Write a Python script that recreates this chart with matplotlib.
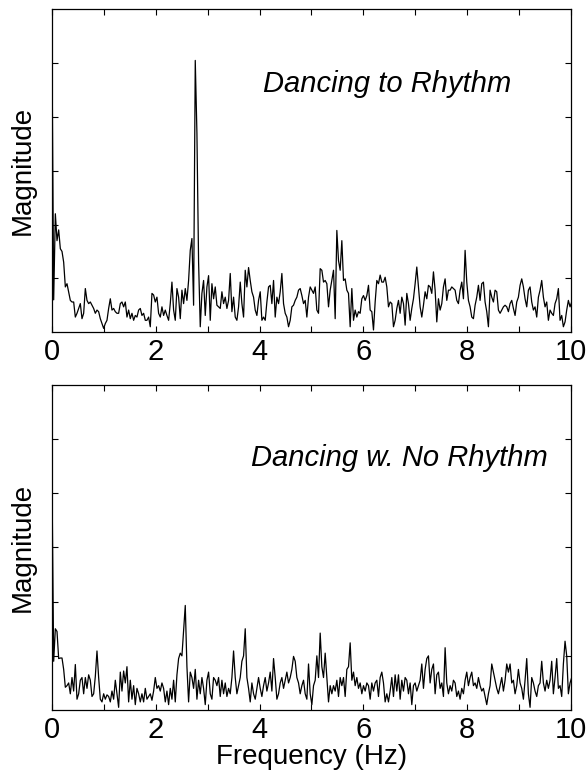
import numpy as np
import matplotlib
matplotlib.use("Agg")
import matplotlib.pyplot as plt

plt.rcParams['font.family'] = ['Liberation Sans', 'DejaVu Sans']

# frequency spacing of the spectra (Hz)
freq_step = 0.0321

# magnitude spectrum, dancing to rhythm (arbitrary units)
rhythm_mag = [
    5.2, 0.6, 2.2, 1.7, 1.9, 1.55, 1.5, 1.3, 0.84, 0.9, 0.75, 0.59, 0.56, 0.56, 0.28, 0.35,
    0.44, 0.53, 0.25, 0.35, 0.81, 0.59, 0.53, 0.56, 0.5, 0.44, 0.35, 0.41, 0.38, 0.25, 0.16, 0.07,
    0.16, 0.22, 0.44, 0.62, 0.41, 0.44, 0.38, 0.35, 0.35, 0.53, 0.56, 0.47, 0.56, 0.28, 0.41, 0.25,
    0.35, 0.22, 0.31, 0.28, 0.41, 0.44, 0.31, 0.35, 0.22, 0.22, 0.28, 0.1, 0.72, 0.69, 0.56, 0.65,
    0.35, 0.28, 0.47, 0.31, 0.41, 0.31, 0.22, 0.53, 0.93, 0.41, 0.22, 0.81, 0.65, 0.25, 0.78, 0.53,
    0.81, 0.59, 0.96, 1.52, 1.74, 0.5, 5.05, 3.7, 1.3, 0.1, 0.72, 0.96, 0.31, 0.84, 1.05, 0.22,
    0.9, 0.62, 0.84, 0.5, 0.47, 0.44, 0.75, 0.53, 0.65, 0.44, 0.59, 1.09, 0.38, 0.65, 0.28, 0.22,
    0.47, 0.93, 0.53, 0.28, 1.15, 0.84, 1.2, 0.96, 0.75, 0.65, 0.41, 0.31, 0.59, 0.75, 0.22, 0.28,
    0.22, 0.56, 0.84, 0.87, 0.53, 0.96, 0.28, 0.65, 0.53, 0.75, 1.09, 0.53, 0.35, 0.28, 0.1, 0.22,
    0.47, 0.5, 0.59, 0.65, 0.78, 0.81, 0.68, 0.53, 0.59, 0.28, 0.65, 0.84, 0.78, 0.72,
    0.84, 0.41, 0.35, 1.18, 1.15, 0.93, 0.96, 0.9, 0.47, 0.78, 0.96, 1.15, 0.25, 1.89, 1.33, 1.15,
    1.7, 0.96, 0.99, 0.78, 0.72, 0.1, 0.81, 0.22, 0.41, 0.28, 0.38, 0.35, 0.62, 0.68, 0.59, 0.68,
    0.87, 0.41, 0.38, 0.04, 0.56, 0.96, 0.9, 1.06, 0.93, 0.93, 1.02, 0.84, 0.47, 0.56, 0.53, 0.1,
    0.22, 0.44, 0.59, 0.35, 0.65, 0.53, 0.13, 0.72, 0.53, 0.22, 0.44, 0.62, 0.9, 1.21, 0.84, 0.47,
    0.28, 0.5, 0.75, 0.62, 0.87, 0.84, 0.72, 1.12, 0.78, 0.19, 0.62, 0.41, 0.53, 0.84, 0.99, 0.59,
    0.78, 0.78, 0.84, 0.81, 0.78, 0.59, 0.53, 0.78, 0.93, 0.62, 1.52, 0.93, 0.59, 0.47, 0.28, 0.25,
    0.5, 0.65, 0.87, 0.59, 0.9, 0.93, 0.56, 0.38, 0.1, 0.78, 0.65, 0.56, 0.78, 0.75, 0.41, 0.35,
    0.41, 0.47, 0.5, 0.47, 0.38, 0.53, 0.59, 0.44, 0.31, 0.56, 0.65, 0.87, 0.99, 0.84, 0.62, 0.47,
    0.78, 0.84, 0.56, 0.41, 0.47, 0.28, 0.65, 0.78, 0.96, 0.65, 0.47, 0.56, 0.22, 0.41, 0.35, 0.31,
    0.53, 0.62, 0.81, 0.22, 0.31, 0.1, 0.19, 0.41, 0.59, 0.47, 0.56,
]

# magnitude spectrum, dancing without rhythm
norhythm_mag = [
    4.2, 0.9, 1.5, 1.45, 0.95, 0.96, 0.96, 0.75, 0.42, 0.45, 0.5, 0.3, 0.6, 0.35, 0.84, 0.2,
    0.3, 0.55, 0.6, 0.3, 0.6, 0.4, 0.65, 0.55, 0.25, 0.3, 0.62, 1.09, 0.6, 0.2, 0.15, 0.3,
    0.2, 0.28, 0.25, 0.15, 0.35, 0.2, 0.55, 0.3, 0.05, 0.7, 0.35, 0.72, 0.5, 0.8, 0.15, 0.55,
    0.2, 0.45, 0.1, 0.4, 0.3, 0.15, 0.3, 0.15, 0.4, 0.2, 0.25, 0.3, 0.18, 0.35, 0.6, 0.4,
    0.45, 0.35, 0.5, 0.4, 0.15, 0.35, 0.1, 0.4, 0.2, 0.55, 0.15, 0.65, 0.95, 1.05, 1.0, 1.45,
    1.93, 0.8, 0.15, 0.7, 0.6, 0.4, 0.75, 0.2, 0.55, 0.3, 0.6, 0.4, 0.1, 0.55, 0.7, 0.3,
    0.2, 0.6, 0.55, 0.45, 0.6, 0.25, 0.55, 0.3, 0.5, 0.25, 0.4, 0.3, 0.6, 1.09, 0.6, 0.3,
    0.45, 0.6, 0.9, 1.0, 1.5, 0.6, 0.4, 0.15, 0.5, 0.3, 0.2, 0.4, 0.6, 0.4, 0.25, 0.45,
    0.6, 0.35, 0.5, 0.7, 0.35, 0.95, 0.6, 0.2, 0.3, 0.5, 0.6, 0.4, 0.55, 0.7, 0.5, 0.6,
    0.75, 0.99, 0.9, 0.6, 0.5, 0.3, 0.45, 0.55, 0.3, 0.2, 0.85, 0.3, 0.1, 0.45,
    0.55, 1.0, 0.6, 1.42, 0.8, 0.6, 1.05, 0.6, 0.15, 0.45, 0.3, 0.45, 0.35, 0.55, 0.25, 0.6,
    0.45, 0.6, 0.25, 0.75, 0.8, 1.24, 0.55, 0.7, 0.45, 0.6, 0.4, 0.5, 0.3, 0.45, 0.35, 0.5,
    0.45, 0.2, 0.5, 0.35, 0.5, 0.55, 0.25, 0.6, 0.7, 0.5, 0.15, 0.3, 0.15, 0.35, 0.6, 0.25,
    0.65, 0.35, 0.65, 0.2, 0.55, 0.35, 0.6, 0.55, 0.3, 0.5, 0.1, 0.45, 0.5, 0.35, 0.45, 0.55,
    0.85, 0.4, 0.75, 0.95, 1.0, 0.5, 0.75, 0.85, 0.3, 0.65, 0.7, 0.4, 0.5, 0.25, 1.15, 0.5,
    0.3, 0.45, 0.35, 0.55, 0.5, 0.25, 0.35, 0.2, 0.4, 0.3, 0.55, 0.7, 0.45, 0.6, 0.7, 0.45,
    0.5, 0.4, 0.6, 0.45, 0.35, 0.4, 0.25, 0.1, 0.3, 0.45, 0.85, 0.7, 0.55, 0.4, 0.3, 0.45,
    0.6, 0.35, 0.55, 0.85, 0.7, 0.85, 0.5, 0.55, 0.3, 0.45, 0.75, 0.5, 0.4, 0.2, 0.55, 0.95,
    0.3, 0.05, 0.6, 0.5, 0.35, 0.25, 0.45, 0.5, 0.9, 0.5, 0.35, 0.55, 0.4, 0.55, 0.9, 0.3,
    0.6, 0.95, 0.4, 0.45, 0.25, 0.85, 1.27, 1.0, 0.3, 0.5, 0.6,
]

panel_titles = ["Dancing to Rhythm", "Dancing w. No Rhythm"]
title_pos = [(0.645, 0.768), (0.67, 0.775)]
xtick_labels = ["0", "", "2", "", "4", "", "6", "", "8", "", "10"]


def drawPanel(ax, mag, title, pos, show_xlabel):
    freqs = np.arange(len(mag)) * freq_step
    ax.plot(freqs, mag, color="black", linewidth=0.9)
    ax.set_xlim(0, 10)
    ax.set_ylim(0, 6)
    ax.set_xticks(range(11))
    ax.set_xticklabels(xtick_labels)
    ax.set_yticks([1, 2, 3, 4, 5])
    ax.set_yticklabels([])
    ax.tick_params(direction="in", top=True, right=True, length=4.5, width=0.8,
                   labelsize=21, pad=4)
    for side in ax.spines.values():
        side.set_linewidth(0.9)
    ax.set_ylabel("Magnitude", fontsize=20, labelpad=8)
    if show_xlabel:
        ax.set_xlabel("Frequency (Hz)", fontsize=20, labelpad=0)
    ax.text(pos[0], pos[1], title, transform=ax.transAxes, fontsize=21,
            style="italic", ha="center", va="center")


fig = plt.figure(figsize=(5.87, 7.76), dpi=100)
ax_top = fig.add_axes([0.0886, 0.572, 0.884, 0.416])
ax_bot = fig.add_axes([0.0886, 0.085, 0.884, 0.419])

drawPanel(ax_top, rhythm_mag, panel_titles[0], title_pos[0], False)
drawPanel(ax_bot, norhythm_mag, panel_titles[1], title_pos[1], True)

fig.savefig("out.png", dpi=100)
